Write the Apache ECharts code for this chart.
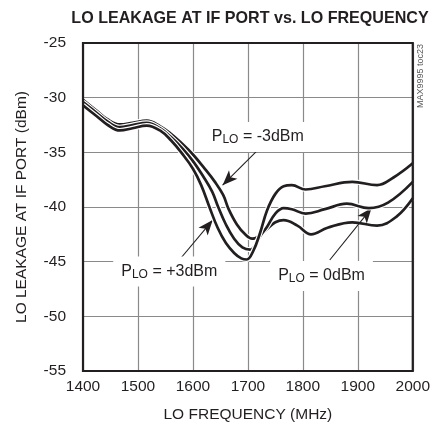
<!DOCTYPE html>
<html>
<head>
<meta charset="utf-8">
<script src="https://cdn.jsdelivr.net/npm/echarts@6/dist/echarts.min.js"></script>
<style>html,body{margin:0;padding:0;background:#fff}#c{width:433px;height:432px}</style>
</head>
<body>
<div id="c"></div>
<script>
// ---- data ----
const xTicks = [1400, 1500, 1600, 1700, 1800, 1900, 2000];
const yTicks = [-55, -50, -45, -40, -35, -30, -25];

const freqM3 = [1400, 1425, 1445, 1467, 1490, 1516, 1540, 1560, 1580, 1600, 1620, 1640, 1655, 1665, 1680, 1695, 1708, 1722, 1735, 1750, 1765, 1790, 1815, 1845, 1890, 1935, 1970, 2000];
const valM3  = [-30.2, -31.2, -32.0, -32.45, -32.3, -32.1, -32.6, -33.3, -34.2, -35.2, -36.4, -37.7, -38.9, -40.2, -41.6, -42.5, -42.9, -42.6, -42.0, -41.4, -41.2, -41.7, -42.5, -41.9, -41.4, -41.7, -40.9, -39.2];

const freq0 = [1400, 1425, 1445, 1467, 1490, 1516, 1540, 1560, 1580, 1600, 1620, 1635, 1646, 1660, 1675, 1690, 1704, 1715, 1722, 1735, 1750, 1765, 1780, 1805, 1840, 1880, 1920, 1955, 2000];
const val0  = [-30.4, -31.4, -32.2, -32.7, -32.5, -32.3, -32.8, -33.6, -34.6, -35.8, -37.3, -38.6, -40.0, -41.6, -42.9, -43.7, -43.9, -43.4, -42.7, -41.8, -40.6, -40.1, -40.2, -40.6, -40.2, -39.7, -40.1, -39.6, -37.7];

const freqP3 = [1400, 1425, 1445, 1467, 1490, 1516, 1540, 1560, 1580, 1600, 1615, 1630, 1645, 1660, 1675, 1688, 1698, 1710, 1722, 1735, 1750, 1765, 1780, 1805, 1840, 1890, 1935, 1965, 2000];
const valP3  = [-30.7, -31.7, -32.5, -33.0, -32.8, -32.55, -33.0, -33.9, -35.1, -36.5, -38.0, -40.0, -41.9, -43.3, -44.2, -44.7, -44.8, -44.0, -42.4, -40.3, -38.8, -38.1, -38.0, -38.4, -38.1, -37.7, -38.0, -37.3, -36.0];

// annotation text and anchor points (data coordinates)
const labelTexts = ['-3dBm', '+3dBm', '0dBm'];
const labelPos = [[1718, -33.6], [1557, -45.9], [1834, -46.3]];
const arrowFrom = [[1722, -34.6], [1571, -45.1], [1849, -44.85]];
const arrowTo = [[1654, -38.0], [1636, -41.2], [1925, -40.1]];

const FONT = '"Liberation Sans", Arial, sans-serif';
const INK = '#231f20';

function pairs(f, v) { return f.map((x, i) => [x, v[i]]); }

const curves = [pairs(freqM3, valM3), pairs(freq0, val0), pairs(freqP3, valP3)];

const series = [];
curves.forEach((d, i) => {
  series.push({
    type: 'line', data: d, smooth: 0.4, symbol: 'none', silent: true, z: 3 + i * 2,
    lineStyle: { color: '#fff', width: 5 }
  });
  series.push({
    type: 'line', data: d, smooth: 0.4, symbol: 'none', silent: true, z: 4 + i * 2,
    lineStyle: { color: INK, width: 2.7 }
  });
});

// annotations
series.push({
  type: 'line', data: [], silent: true, z: 10,
  markLine: {
    silent: true, symbol: ['none', 'arrow'], symbolSize: [9, 15],
    lineStyle: { color: INK, width: 1.1, type: 'solid' },
    label: { show: false },
    data: arrowFrom.map((a, i) => [{ coord: a }, { coord: arrowTo[i] }])
  },
  markPoint: {
    silent: true, symbol: 'rect', symbolSize: [1, 1],
    itemStyle: { color: 'rgba(0,0,0,0)' },
    data: labelPos.map((p, i) => ({
      coord: p,
      label: {
        show: true, position: 'inside',
        formatter: '{p|P}{s|LO}{p| = ' + labelTexts[i] + '}',
        backgroundColor: '#fff', padding: [6, 8],
        rich: {
          p: { fontFamily: FONT, fontSize: 16, color: INK, lineHeight: 18 },
          s: { fontFamily: FONT, fontSize: 12, color: INK, lineHeight: 6, verticalAlign: 'bottom' }
        }
      }
    }))
  }
});

const chart = echarts.init(document.getElementById('c'), null, { renderer: 'canvas' });
chart.setOption({
  animation: false,
  backgroundColor: '#fff',
  title: {
    text: 'LO LEAKAGE AT IF PORT vs. LO FREQUENCY',
    left: 245, top: 6, textAlign: 'center',
    textStyle: { fontFamily: FONT, fontSize: 16.1, fontWeight: 'bold', color: INK }
  },
  grid: { left: 83, right: 20, top: 43, bottom: 61, show: true, borderColor: INK, borderWidth: 2.2, backgroundColor: 'transparent', z: 20 },
  xAxis: {
    type: 'value', min: xTicks[0], max: xTicks[xTicks.length - 1], interval: 100,
    name: 'LO FREQUENCY (MHz)', nameLocation: 'middle', nameGap: 36,
    nameTextStyle: { fontFamily: FONT, fontSize: 15.5, color: INK },
    axisLine: { show: false }, axisTick: { show: false },
    axisLabel: { fontFamily: FONT, fontSize: 15.5, color: INK, margin: 8, formatter: v => String(v) },
    splitLine: { show: true, lineStyle: { color: '#8a8a8a', width: 1.2 } }
  },
  yAxis: {
    type: 'value', min: yTicks[0], max: yTicks[yTicks.length - 1], interval: 5,
    name: 'LO LEAKAGE AT IF PORT (dBm)', nameLocation: 'middle', nameGap: 53,
    nameTextStyle: { fontFamily: FONT, fontSize: 15.5, color: INK },
    axisLine: { show: false }, axisTick: { show: false },
    axisLabel: { fontFamily: FONT, fontSize: 15.5, color: INK, margin: 17, formatter: v => String(v) },
    splitLine: { show: true, lineStyle: { color: '#8a8a8a', width: 1.2 } }
  },
  graphic: [{
    type: 'text', x: 421, y: 76, rotation: Math.PI / 2,
    style: { text: 'MAX9995 toc23', font: '9px ' + FONT, fill: '#555', align: 'center', verticalAlign: 'middle' }
  }],
  series: series
});
</script>
</body>
</html>
